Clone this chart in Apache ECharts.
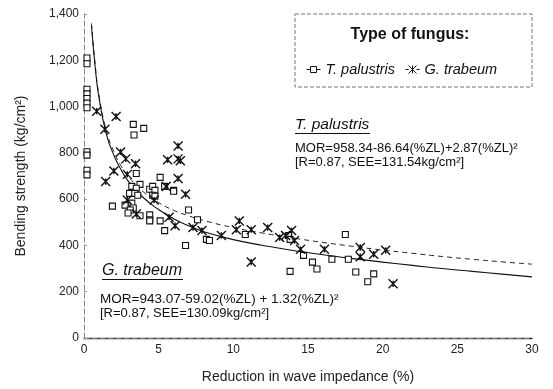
<!DOCTYPE html>
<html><head><meta charset="utf-8">
<script src="https://cdn.jsdelivr.net/npm/echarts@6/dist/echarts.min.js"></script>
<style>html,body{margin:0;padding:0;background:#fff}#c{width:553px;height:389px}</style>
</head><body><div id="c"></div><script>
// T. palustris (squares)
const palX=[0.2,0.2,0.2,0.2,0.2,0.2,0.2,0.2,0.2,0.2,0.2,
3.3,4.0,3.35,3.5,5.1,3.75,4.4,4.6,5.4,6.0,3.2,3.5,3.05,3.4,3.6,4.75,4.6,4.75,6.0,
1.9,2.75,3.2,3.3,3.1,2.95,3.75,4.4,4.4,4.4,7.0,5.1,5.4,7.6,6.8,8.2,8.4,10.8,
13.7,13.8,14.7,13.8,15.3,15.6,16.6,17.5,17.7,18.2,19.0,19.4];
const palY=[1210,1185,1075,1055,1035,1015,995,805,790,725,705,
923,906,877,711,694,664,643,655,655,638,655,647,625,625,617,638,617,613,634,
570,574,583,562,553,540,528,532,511,506,553,506,464,511,400,426,421,447,
443,426,357,288,328,298,340,447,340,285,243,277];
// G. trabeum (crosses)
const trabX=[0.85,2.15,1.4,6.3,2.45,2.8,5.6,6.3,6.45,3.45,2.0,2.9,6.3,1.45,5.5,6.8,2.9,3.5,4.7,5.7,
6.1,7.3,7.9,9.2,10.4,10.2,11.2,12.3,13.1,13.5,13.9,14.1,14.5,11.2,16.1,18.5,18.5,19.4,20.2,20.7];
const trabY=[980,957,902,830,804,774,770,774,766,753,722,707,689,676,655,621,596,536,596,522,
485,477,464,443,506,468,468,477,434,443,464,421,383,328,383,391,351,362,379,234];
// fitted curves
const curveX=[0.5,0.75,1,1.5,2,2.5,3,4,5,6,7,8,10,12,14,16,18,20,22,24,26,28,30];
const trabCurveY=[1350,1170,1040,880,790,725,675,605,555,515,485,460,425,400,378,360,343,328,314,300,288,276,264];
const palCurveY=[1360,1180,1050,895,805,742,695,630,585,552,528,508,477,453,432,413,396,380,366,352,340,329,319];

const zip=(a,b)=>a.map((v,i)=>[v,b[i]]);
const FONT='Liberation Sans, Arial, sans-serif';
const crossPath='path://M0,0L10,10M10,0L0,10M5,1.5V8.5';
const chart=echarts.init(document.getElementById('c'),null,{renderer:'canvas'});
chart.setOption({
  animation:false,
  textStyle:{fontFamily:FONT},
  grid:{left:84,right:21,top:14,bottom:47},
  xAxis:[{type:'value',min:0,max:30,interval:5,
    name:'Reduction in wave impedance (%)',nameLocation:'middle',nameGap:32,
    nameTextStyle:{fontSize:14,color:'#222',fontFamily:FONT},
    axisLine:{lineStyle:{color:'#222',width:1.3}},
    axisTick:{show:false},
    axisLabel:{fontSize:12,color:'#222',margin:6,fontFamily:FONT},
    splitLine:{show:false}},
   {type:'value',position:'top',min:0,max:30,
    axisLine:{show:true,lineStyle:{color:'#888',type:[5,3],width:1}},
    axisTick:{show:false},axisLabel:{show:false},splitLine:{show:false}}],
  yAxis:[{type:'value',min:0,max:1400,interval:200,
    name:'Bending strength (kg/cm²)',nameLocation:'middle',nameGap:56,
    nameTextStyle:{fontSize:14,color:'#222',fontFamily:FONT},
    axisLine:{show:true,lineStyle:{color:'#aaa',type:[1,3],width:1}},
    axisTick:{show:true,inside:true,length:3,lineStyle:{color:'#999'}},
    axisLabel:{fontSize:12,color:'#222',margin:5,fontFamily:FONT,
      formatter:v=>v.toLocaleString('en-US')},
    splitLine:{show:false}},
   {type:'value',position:'right',min:0,max:1400,
    axisLine:{show:true,lineStyle:{color:'#888',type:[5,3],width:1}},
    axisTick:{show:false},axisLabel:{show:false},splitLine:{show:false}}],
  legend:{left:301,top:57,z:10,itemWidth:14,itemHeight:8,itemGap:10,
    textStyle:{fontSize:14.5,fontStyle:'italic',color:'#111',fontFamily:FONT},
    data:[{name:'T. palustris',icon:'path://M0,5H4M4,2H10V8H4ZM10,5H14',
           itemStyle:{color:'transparent',borderColor:'#111',borderWidth:1}},
          {name:'G. trabeum',icon:'path://M0,5H3M3,1L11,9M11,1L3,9M7,1V9M11,5H14',
           itemStyle:{color:'transparent',borderColor:'#111',borderWidth:1}}]},
  graphic:[
    {type:'rect',z:1,shape:{x:295,y:14,width:237,height:73},
     style:{fill:'#fff',stroke:'#777',lineWidth:1,lineDash:[4,2]}},
    {type:'text',z:11,x:410,y:35,style:{text:'Type of fungus:',font:'bold 16px '+FONT,fill:'#111',textAlign:'center',textVerticalAlign:'middle'}},
    {type:'text',z:11,x:295,y:125,style:{text:'T. palustris',font:'italic 15.5px '+FONT,fill:'#111',textVerticalAlign:'middle'}},
    {type:'line',z:11,shape:{x1:295,y1:133.5,x2:370,y2:133.5},style:{stroke:'#111',lineWidth:1}},
    {type:'text',z:11,x:295,y:148,style:{text:'MOR=958.34-86.64(%ZL)+2.87(%ZL)²',font:'13px '+FONT,fill:'#111',textVerticalAlign:'middle'}},
    {type:'text',z:11,x:295,y:162,style:{text:'[R=0.87, SEE=131.54kg/cm²]',font:'13px '+FONT,fill:'#111',textVerticalAlign:'middle'}},
    {type:'text',z:11,x:102,y:271,style:{text:'G. trabeum',font:'italic 16px '+FONT,fill:'#111',textVerticalAlign:'middle'}},
    {type:'line',z:11,shape:{x1:102,y1:279.5,x2:183,y2:279.5},style:{stroke:'#111',lineWidth:1}},
    {type:'text',z:11,x:100,y:299,style:{text:'MOR=943.07-59.02(%ZL) + 1.32(%ZL)²',font:'13.5px '+FONT,fill:'#111',textVerticalAlign:'middle'}},
    {type:'text',z:11,x:100,y:313,style:{text:'[R=0.87, SEE=130.09kg/cm²]',font:'13px '+FONT,fill:'#111',textVerticalAlign:'middle'}}
  ],
  series:[
    {name:'T. palustris',type:'scatter',data:zip(palX,palY),symbol:'rect',symbolSize:6,
     itemStyle:{color:'#fff',borderColor:'#111',borderWidth:1.1,opacity:1},z:4},
    {name:'G. trabeum',type:'scatter',data:zip(trabX,trabY),symbol:crossPath,symbolSize:9,
     itemStyle:{color:'transparent',borderColor:'#111',borderWidth:1.4,opacity:1},z:5},
    {name:'T. palustris fit',type:'line',data:zip(curveX,palCurveY),smooth:true,showSymbol:false,
     lineStyle:{color:'#222',width:1,type:[5,4]},z:3},
    {name:'G. trabeum fit',type:'line',data:zip(curveX,trabCurveY),smooth:true,showSymbol:false,
     lineStyle:{color:'#111',width:1.1},z:3}
  ]
});
</script></body></html>
